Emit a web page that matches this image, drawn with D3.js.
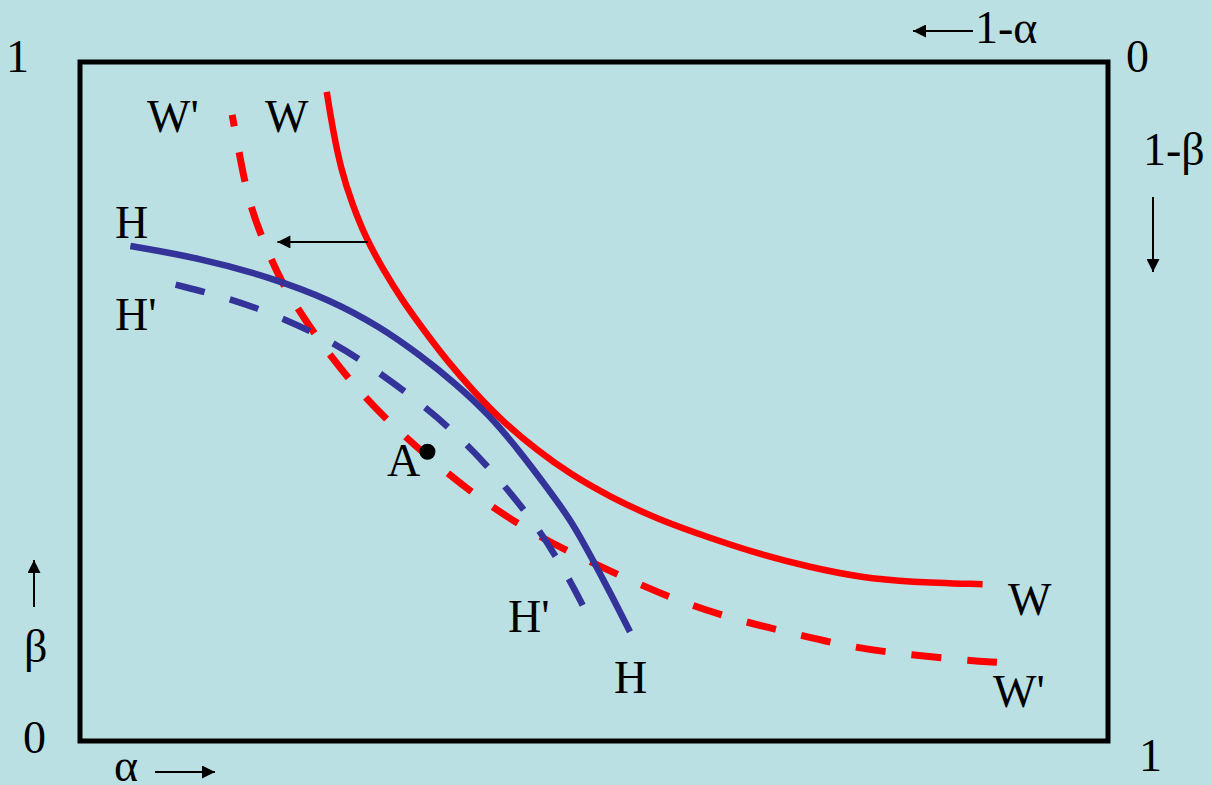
<!DOCTYPE html>
<html>
<head>
<meta charset="utf-8">
<script src="https://cdn.jsdelivr.net/npm/d3@7"></script>
<style>
  body { margin: 0; background: #bae0e3; }
  text { font-family: "Liberation Serif", "Times New Roman", serif; font-size: 46px; fill: #000; }
</style>
</head>
<body>
<div id="container"></div>
<script>
const width = 1212;
const height = 785;

// curves, alpha (0..1 left to right) and beta (0..1 bottom to top)
const wAlpha = [0.240, 0.246, 0.254, 0.265, 0.278, 0.295, 0.313, 0.334, 0.357, 0.384, 0.413, 0.444, 0.477, 0.515, 0.564, 0.613, 0.661, 0.710, 0.759, 0.807, 0.878];
const wBeta  = [0.956, 0.900, 0.841, 0.790, 0.741, 0.694, 0.650, 0.606, 0.560, 0.513, 0.468, 0.429, 0.393, 0.360, 0.325, 0.299, 0.275, 0.256, 0.241, 0.234, 0.231];

const w2Alpha = [0.148, 0.156, 0.165, 0.180, 0.197, 0.219, 0.243, 0.277, 0.316, 0.358, 0.399, 0.447, 0.496, 0.545, 0.593, 0.647, 0.700, 0.754, 0.807, 0.861, 0.892];
const w2Beta  = [0.922, 0.856, 0.789, 0.730, 0.672, 0.620, 0.568, 0.505, 0.448, 0.393, 0.346, 0.300, 0.264, 0.230, 0.200, 0.175, 0.156, 0.137, 0.127, 0.119, 0.116];

const hAlpha = [0.049, 0.117, 0.185, 0.243, 0.292, 0.331, 0.365, 0.399, 0.428, 0.455, 0.479, 0.498, 0.518, 0.535];
const hBeta  = [0.729, 0.711, 0.683, 0.650, 0.610, 0.568, 0.527, 0.479, 0.426, 0.372, 0.322, 0.269, 0.212, 0.161];

const h2Alpha = [0.093, 0.146, 0.196, 0.246, 0.292, 0.336, 0.375, 0.411, 0.446, 0.474, 0.489];
const h2Beta  = [0.672, 0.652, 0.624, 0.588, 0.542, 0.492, 0.440, 0.380, 0.314, 0.244, 0.200];

const pointA = [0.338, 0.426];
const shiftArrow = [[0.280, 0.735], [0.192, 0.735]];

const cornerLabels = ['1', '0', '0', '1'];
const curveLabels = ['W\'', 'W', 'H', 'H\'', 'A', 'H\'', 'H', 'W', 'W\''];

const x = d3.scaleLinear().domain([0, 1]).range([80, 1108]);
const y = d3.scaleLinear().domain([0, 1]).range([741, 62]);

const svg = d3.select('#container')
    .append('svg')
    .attr('width', width)
    .attr('height', height);

svg.append('defs').append('marker')
    .attr('id', 'head')
    .attr('viewBox', '0 0 10 10')
    .attr('refX', 10)
    .attr('refY', 5)
    .attr('markerUnits', 'userSpaceOnUse')
    .attr('markerWidth', 16)
    .attr('markerHeight', 13)
    .attr('orient', 'auto')
    .append('path')
    .attr('d', 'M0,0 L10,5 L0,10 Z')
    .attr('fill', '#000');

svg.append('rect')
    .attr('x', x(0))
    .attr('y', y(1))
    .attr('width', x(1) - x(0))
    .attr('height', y(0) - y(1))
    .attr('fill', 'none')
    .attr('stroke', '#000')
    .attr('stroke-width', 5);

const line = d3.line()
    .x(d => x(d[0]))
    .y(d => y(d[1]))
    .curve(d3.curveBasis);

const curves = [
    { a: w2Alpha, b: w2Beta, color: '#ff0000', width: 7, dash: [30, 25], lead: 18 },
    { a: h2Alpha, b: h2Beta, color: '#333399', width: 6.5, dash: [30, 25], lead: 0 },
    { a: hAlpha, b: hBeta, color: '#333399', width: 6.5, dash: null },
    { a: wAlpha, b: wBeta, color: '#ff0000', width: 6.5, dash: null }
];

curves.forEach(c => {
    const path = svg.append('path')
        .datum(c.a.map((v, i) => [v, c.b[i]]))
        .attr('d', line)
        .attr('fill', 'none')
        .attr('stroke', c.color)
        .attr('stroke-width', c.width);
    if (c.dash) {
        // stretch the gaps a little so the curve also ends on a full dash
        const len = path.node().getTotalLength() + c.lead;
        const n = Math.max(1, Math.round((len - c.dash[0]) / (c.dash[0] + c.dash[1])));
        const gap = (len - c.dash[0]) / n - c.dash[0];
        path.attr('stroke-dasharray', c.dash[0] + ',' + gap)
            .attr('stroke-dashoffset', c.lead);
    }
});

// shift arrow from W to W'
svg.append('line')
    .attr('x1', x(shiftArrow[0][0]))
    .attr('y1', y(shiftArrow[0][1]))
    .attr('x2', x(shiftArrow[1][0]))
    .attr('y2', y(shiftArrow[1][1]))
    .attr('stroke', '#000')
    .attr('stroke-width', 2)
    .attr('marker-end', 'url(#head)');

svg.append('circle')
    .attr('cx', x(pointA[0]))
    .attr('cy', y(pointA[1]))
    .attr('r', 8)
    .attr('fill', '#000');

// axis direction arrows (page coordinates)
const arrows = [
    [973, 31, 913, 31],
    [1153, 197, 1153, 272],
    [34, 607, 34, 560],
    [155, 772, 215, 772]
];
arrows.forEach(a => {
    svg.append('line')
        .attr('x1', a[0]).attr('y1', a[1])
        .attr('x2', a[2]).attr('y2', a[3])
        .attr('stroke', '#000')
        .attr('stroke-width', 2)
        .attr('marker-end', 'url(#head)');
});

const cornerPos = [[6, 72], [1126, 72], [23, 753], [1139, 771]];
cornerLabels.forEach((t, i) => {
    svg.append('text').attr('x', cornerPos[i][0]).attr('y', cornerPos[i][1]).text(t);
});

svg.append('text').attr('x', 975).attr('y', 43).text('1-α');
svg.append('text').attr('x', 1143).attr('y', 165).text('1-β');
svg.append('text').attr('x', 24).attr('y', 662).text('β');
svg.append('text').attr('x', 114).attr('y', 781).text('α');

const curvePos = [[147, 132], [265, 132], [115, 238], [115, 330], [387, 476], [508, 632], [614, 693], [1008, 615], [993, 707]];
curveLabels.forEach((t, i) => {
    svg.append('text').attr('x', curvePos[i][0]).attr('y', curvePos[i][1]).text(t);
});
</script>
</body>
</html>
